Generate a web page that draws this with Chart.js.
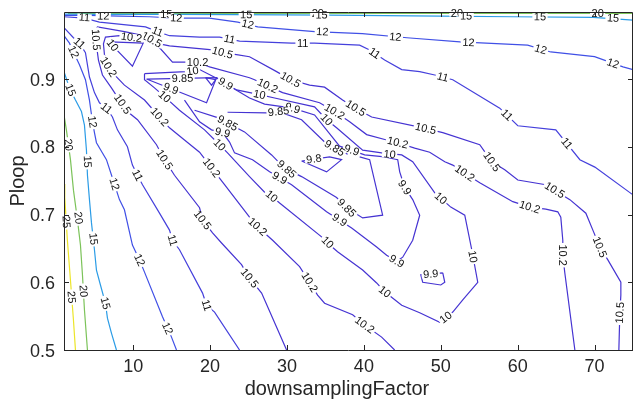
<!DOCTYPE html>
<html>
<head>
<meta charset="utf-8">
<script src="https://cdn.jsdelivr.net/npm/chart.js@4.4.1/dist/chart.umd.min.js"></script>
<style>
  html, body { margin: 0; padding: 0; background: #fff; }
  #wrap { width: 633px; height: 401px; }
</style>
</head>
<body>
<div id="wrap"><canvas id="contour-chart" width="633" height="401"></canvas></div>
<script>
// axes
const xTicks = [10, 20, 30, 40, 50, 60, 70];
const yTicks = [0.5, 0.6, 0.7, 0.8, 0.9];
const xTitle = 'downsamplingFactor';
const yTitle = 'Ploop';

// contour polylines per level, points are [downsamplingFactor, Ploop]
const lines25 = [
  [[1.0, 0.745], [1.1, 0.725], [1.44, 0.662], [1.84, 0.603], [2.23, 0.544], [2.49, 0.5]]
];
const lines20 = [
  [[1.0, 0.847], [1.31, 0.825], [1.84, 0.781], [2.23, 0.736], [2.75, 0.692], [3.14, 0.655], [3.4, 0.611], [3.66, 0.559], [4.05, 0.5]],
  [[1.5, 0.997], [75, 0.997]]
];
const lines15 = [
  [[1.0, 0.996], [5.6, 0.9955], [15.0, 0.9955], [23.4, 0.995], [35.5, 0.9945], [49.9, 0.993], [59.4, 0.992], [69.8, 0.991], [75, 0.987]],
  [[1.0, 0.911], [1.44, 0.896], [1.84, 0.884], [2.49, 0.869], [3.27, 0.852], [3.66, 0.832], [3.92, 0.795], [4.05, 0.758], [4.31, 0.722], [4.57, 0.688], [4.96, 0.648], [5.22, 0.618], [5.74, 0.596], [6.39, 0.569], [6.65, 0.547], [7.17, 0.525], [7.82, 0.5]]
];
const lines12 = [
  [[1.0, 0.994], [4.3, 0.994], [8.2, 0.993], [12.1, 0.992], [15.6, 0.990], [19.9, 0.990], [23.6, 0.984], [26.2, 0.977], [33.6, 0.970], [39.8, 0.967], [45.6, 0.961], [52.5, 0.955], [61.3, 0.950], [64.3, 0.940], [70.0, 0.933], [73.7, 0.918], [75, 0.914]],
  [[1.0, 0.964], [1.71, 0.953], [2.23, 0.940], [3.01, 0.921], [3.79, 0.899], [4.31, 0.869], [4.7, 0.837], [4.96, 0.821], [5.22, 0.806], [6.52, 0.781], [7.3, 0.754], [8.21, 0.722], [8.86, 0.707], [9.9, 0.655], [10.82, 0.633], [11.47, 0.615], [13.81, 0.549], [14.98, 0.519], [15.63, 0.5]]
];
const lines11 = [
  [[1.0, 0.992], [3.66, 0.990], [5.61, 0.984], [11.6, 0.977], [13.16, 0.970], [14.72, 0.964], [18.63, 0.962], [21.23, 0.962], [23.83, 0.956], [30.6, 0.953], [33.59, 0.953], [39.45, 0.950], [40.75, 0.943], [42.7, 0.928], [44.92, 0.914], [47.26, 0.911], [49.22, 0.906], [51.56, 0.899], [57.67, 0.857], [60.02, 0.831], [64.96, 0.825], [68.09, 0.781], [70.04, 0.770], [75, 0.729]],
  [[1.0, 0.976], [2.23, 0.961], [3.01, 0.953], [3.79, 0.939], [4.31, 0.903], [4.96, 0.880], [5.61, 0.865], [6.52, 0.857], [7.3, 0.844], [7.95, 0.825], [9.25, 0.800], [9.9, 0.773], [10.56, 0.758], [11.21, 0.744], [13.42, 0.702], [14.72, 0.677], [15.11, 0.662], [16.02, 0.648], [19.02, 0.584], [19.54, 0.566], [20.58, 0.556], [23.83, 0.5]]
];
const lines105 = [
  [[29.95, 0.5], [26.7, 0.584], [25.13, 0.606], [24.09, 0.626], [21.49, 0.658], [20.32, 0.673], [19.02, 0.692], [18.63, 0.710], [15.37, 0.758], [14.07, 0.781], [13.03, 0.803], [10.56, 0.840], [9.25, 0.852], [8.21, 0.869], [7.17, 0.887], [6.0, 0.906], [5.48, 0.928], [5.22, 0.950], [5.09, 0.973], [5.35, 0.977], [8.86, 0.970], [11.47, 0.964], [12.4, 0.958], [13.42, 0.952], [14.72, 0.949], [20.32, 0.943], [21.62, 0.939], [23.44, 0.936], [25.13, 0.933], [28.65, 0.911], [30.47, 0.899], [32.94, 0.891], [34.89, 0.888], [37.23, 0.869], [38.93, 0.857], [41.01, 0.844], [47.26, 0.829], [50.26, 0.821], [55.07, 0.803], [56.63, 0.778], [58.32, 0.766], [60.02, 0.751], [63.66, 0.744], [66.79, 0.722], [68.87, 0.702], [69.78, 0.677], [70.69, 0.652], [71.73, 0.633], [73.42, 0.600], [73.42, 0.581], [73.29, 0.555], [73.16, 0.5]]
];
const lines102 = [
  [[44.0, 0.5], [42.31, 0.519], [40.1, 0.537], [38.54, 0.552], [34.89, 0.569], [33.98, 0.581], [32.94, 0.600], [31.64, 0.623], [28.13, 0.662], [26.17, 0.682], [25.13, 0.696], [21.88, 0.744], [20.19, 0.769], [18.63, 0.792], [16.67, 0.810], [14.72, 0.828], [13.42, 0.844], [11.47, 0.869], [8.86, 0.891], [7.17, 0.911], [6.78, 0.918], [6.26, 0.936], [6.13, 0.952], [6.39, 0.962], [8.21, 0.964], [11.47, 0.959], [13.29, 0.948], [15.11, 0.925], [16.93, 0.925], [18.37, 0.925], [19.93, 0.918], [25.13, 0.902], [25.78, 0.899], [27.48, 0.890], [29.43, 0.880], [34.24, 0.865], [36.19, 0.852], [38.15, 0.837], [40.36, 0.818], [42.96, 0.810], [44.4, 0.806], [46.61, 0.798], [48.56, 0.792], [50.52, 0.778], [51.56, 0.773], [53.12, 0.761], [55.07, 0.747], [59.37, 0.719], [61.58, 0.711], [63.66, 0.708], [65.22, 0.704], [65.61, 0.696], [65.87, 0.662], [65.87, 0.640], [66.13, 0.614], [67.44, 0.5]]
];
const lines10 = [
  [[11.47, 0.908], [16.8, 0.911], [18.63, 0.914], [21.23, 0.899], [23.44, 0.884], [26.43, 0.877], [28.39, 0.872], [33.59, 0.859], [35.15, 0.840], [36.45, 0.828], [39.84, 0.795], [42.31, 0.791], [44.92, 0.788], [46.35, 0.778], [49.22, 0.732], [51.3, 0.711], [53.12, 0.699], [54.03, 0.648], [54.81, 0.600], [52.86, 0.574], [51.56, 0.556], [49.87, 0.541], [47.26, 0.555], [44.92, 0.566], [42.7, 0.586], [41.66, 0.599], [39.84, 0.618], [36.58, 0.645], [35.28, 0.658], [34.5, 0.667], [29.04, 0.717], [28.0, 0.727], [27.09, 0.733], [25.13, 0.756], [22.27, 0.791], [21.23, 0.803], [19.28, 0.825], [16.02, 0.854], [14.07, 0.874], [12.77, 0.887], [11.47, 0.899], [11.47, 0.908]],
  [[7.0, 0.955], [7.6, 0.946], [9.9, 0.919], [11.3, 0.953], [7.0, 0.955]]
];
const lines99 = [
  [[11.73, 0.900], [20.84, 0.902], [19.54, 0.865], [11.73, 0.900]],
  [[16.67, 0.869], [18.63, 0.837], [20.19, 0.825], [21.62, 0.821], [22.53, 0.807], [23.18, 0.791], [25.52, 0.781], [27.74, 0.763], [30.6, 0.744], [35.15, 0.704], [38.41, 0.680], [41.66, 0.652], [42.96, 0.640], [44.27, 0.631], [45.05, 0.637], [46.35, 0.662], [47.26, 0.699], [46.35, 0.722], [45.31, 0.740], [44.66, 0.763], [44.4, 0.781], [42.7, 0.785], [40.1, 0.788], [36.84, 0.801], [33.59, 0.847], [30.73, 0.857], [27.09, 0.863], [25.13, 0.872], [22.79, 0.888], [20.84, 0.902]],
  [[50.26, 0.614], [50.52, 0.600], [50.0, 0.596], [47.65, 0.600], [47.4, 0.611], [50.26, 0.614]]
];
const lines985 = [
  [[19.41, 0.902], [20.71, 0.899], [20.19, 0.891], [19.41, 0.902]],
  [[17.98, 0.854], [20.97, 0.843], [22.27, 0.835], [24.48, 0.822], [28.0, 0.788], [29.04, 0.776], [29.95, 0.767], [31.9, 0.756], [36.45, 0.725], [37.76, 0.710], [39.84, 0.695], [42.44, 0.699], [40.75, 0.781], [39.45, 0.785]],
  [[22.27, 0.851], [27.35, 0.850], [28.91, 0.852], [31.9, 0.840], [34.89, 0.807], [36.19, 0.798], [37.89, 0.789]]
];
const lines98 = [
  [[31.9, 0.779], [35.15, 0.763], [37.1, 0.781], [35.54, 0.785], [31.9, 0.779]]
];

// inline contour labels: [downsamplingFactor, Ploop, level]
const labelSpots = [
  [1.31, 0.689, 25], [1.97, 0.578, 25],
  [1.58, 0.803, 20], [2.88, 0.695, 20], [3.53, 0.587, 20], [34.0, 0.9975, 20], [52.1, 0.9975, 20], [70.4, 0.9975, 20],
  [1.84, 0.884, 15], [4.05, 0.778, 15], [4.83, 0.664, 15], [6.39, 0.569, 15],
  [14.3, 0.9955, 15], [24.7, 0.995, 15], [34.5, 0.9945, 15], [53.3, 0.993, 15], [62.9, 0.992, 15], [72.4, 0.990, 15],
  [2.23, 0.940, 12], [4.7, 0.837, 12], [7.56, 0.745, 12], [10.82, 0.633, 12], [14.46, 0.532, 12],
  [6.1, 0.993, 12], [15.6, 0.990, 12], [24.9, 0.981, 12], [34.6, 0.970, 12], [44.1, 0.962, 12], [53.6, 0.954, 12], [63.0, 0.944, 12], [72.4, 0.923, 12],
  [3.01, 0.953, 11], [6.52, 0.857, 11], [10.56, 0.758, 11], [15.11, 0.662, 11], [19.54, 0.566, 11],
  [3.66, 0.991, 11], [13.16, 0.970, 11], [22.53, 0.959, 11], [32.03, 0.953, 11], [41.4, 0.938, 11], [50.26, 0.903, 11], [58.6, 0.847, 11], [66.4, 0.805, 11],
  [5.15, 0.958, 10.5], [8.6, 0.863, 10.5], [14.07, 0.781, 10.5], [19.02, 0.692, 10.5], [25.13, 0.606, 10.5],
  [12.4, 0.958, 10.5], [21.62, 0.939, 10.5], [30.47, 0.899, 10.5], [38.93, 0.857, 10.5], [48.04, 0.827, 10.5], [56.63, 0.778, 10.5], [64.83, 0.736, 10.5], [70.69, 0.652, 10.5], [73.29, 0.555, 10.5],
  [6.78, 0.918, 10.2], [13.42, 0.844, 10.2], [20.19, 0.769, 10.2], [26.17, 0.682, 10.2], [32.94, 0.600, 10.2], [40.1, 0.537, 10.2],
  [9.78, 0.9615, 10.2], [18.37, 0.925, 10.2], [27.48, 0.890, 10.2], [36.19, 0.852, 10.2], [44.4, 0.806, 10.2], [53.12, 0.761, 10.2], [61.58, 0.711, 10.2], [65.87, 0.640, 10.2],
  [17.71, 0.912, 10], [26.43, 0.877, 10], [35.15, 0.840, 10], [43.35, 0.789, 10], [50.0, 0.724, 10], [54.16, 0.638, 10],
  [50.65, 0.548, 10], [42.7, 0.586, 10], [35.28, 0.659, 10], [28.0, 0.727, 10], [21.23, 0.803, 10], [14.07, 0.874, 10], [7.3, 0.950, 10],
  [14.9, 0.886, 9.9], [16.41, 0.901, 9.85], [22.01, 0.893, 9.9], [22.27, 0.835, 9.85], [21.62, 0.821, 9.9],
  [29.95, 0.767, 9.85], [29.04, 0.754, 9.9], [37.76, 0.710, 9.85], [36.84, 0.692, 9.9], [44.27, 0.631, 9.9],
  [45.31, 0.740, 9.9], [38.41, 0.795, 9.9], [36.19, 0.798, 9.85], [30.73, 0.857, 9.9], [28.91, 0.852, 9.85],
  [33.5, 0.782, 9.8], [48.69, 0.612, 9.9]
];

const contourSets = [
  [9.8, lines98], [9.85, lines985], [9.9, lines99], [10, lines10], [10.2, lines102],
  [10.5, lines105], [11, lines11], [12, lines12], [15, lines15], [20, lines20], [25, lines25]
];

function lineColor(level) {
  if (level >= 25) return '#ece52a';
  if (level >= 20) return '#7cc35a';
  if (level >= 15) return '#2b9ce6';
  if (level >= 12) return '#4050e6';
  if (level >= 11) return '#4540dc';
  return '#4533d2';
}

const datasets = [];
contourSets.forEach(([level, polylines]) => {
  polylines.forEach(pl => {
    datasets.push({
      label: String(level),
      data: pl.map(([x, y]) => ({ x, y })),
      borderColor: lineColor(level),
      borderWidth: 1.2,
      pointRadius: 0,
      showLine: true,
      fill: false,
      tension: 0
    });
  });
});

// clabel-style text, turned along the nearest drawn segment
const contourText = {
  id: 'contourText',
  afterDatasetsDraw(chart) {
    const { ctx, scales: { x, y } } = chart;
    const segs = [];
    chart.data.datasets.forEach((ds, i) => {
      const pts = chart.getDatasetMeta(i).data;
      for (let k = 1; k < pts.length; k++) {
        segs.push([pts[k - 1].x, pts[k - 1].y, pts[k].x, pts[k].y]);
      }
    });
    ctx.save();
    ctx.font = '11px "Liberation Sans", Arial, sans-serif';
    ctx.textAlign = 'center';
    ctx.textBaseline = 'middle';
    labelSpots.forEach(([vx, vy, level]) => {
      const px = x.getPixelForValue(vx);
      const py = y.getPixelForValue(vy);
      let best = Infinity, ang = 0;
      segs.forEach(([x1, y1, x2, y2]) => {
        const dx = x2 - x1, dy = y2 - y1;
        const len = dx * dx + dy * dy || 1;
        let t = ((px - x1) * dx + (py - y1) * dy) / len;
        t = Math.max(0, Math.min(1, t));
        const d = Math.hypot(x1 + t * dx - px, y1 + t * dy - py);
        if (d < best) { best = d; ang = Math.atan2(dy, dx); }
      });
      if (ang > Math.PI / 2) ang -= Math.PI;
      if (ang < -Math.PI / 2) ang += Math.PI;
      const txt = String(level);
      const w = ctx.measureText(txt).width;
      ctx.save();
      ctx.translate(px, py);
      ctx.rotate(ang);
      ctx.fillStyle = '#ffffff';
      ctx.fillRect(-w / 2 - 1.5, -3.5, w + 3, 7);
      ctx.fillStyle = '#111111';
      ctx.fillText(txt, 0, 0.5);
      ctx.restore();
    });
    ctx.restore();
  }
};

// boxed axes with inward ticks
const boxAxes = {
  id: 'boxAxes',
  afterDraw(chart) {
    const { ctx, chartArea: a, scales: { x, y } } = chart;
    ctx.save();
    ctx.strokeStyle = '#262626';
    ctx.lineWidth = 1;
    ctx.beginPath();
    ctx.rect(a.left + 0.5, a.top + 0.5, a.right - a.left - 1, a.bottom - a.top);
    xTicks.forEach(v => {
      const px = Math.round(x.getPixelForValue(v)) + 0.5;
      ctx.moveTo(px, a.bottom); ctx.lineTo(px, a.bottom - 5);
      ctx.moveTo(px, a.top); ctx.lineTo(px, a.top + 5);
    });
    yTicks.forEach(v => {
      const py = Math.round(y.getPixelForValue(v)) + 0.5;
      ctx.moveTo(a.left, py); ctx.lineTo(a.left + 5, py);
      ctx.moveTo(a.right, py); ctx.lineTo(a.right - 5, py);
    });
    ctx.stroke();

    ctx.fillStyle = '#262626';
    ctx.font = '18px "Liberation Sans", Arial, sans-serif';
    ctx.textAlign = 'center';
    ctx.textBaseline = 'alphabetic';
    xTicks.forEach(v => ctx.fillText(String(v), x.getPixelForValue(v), a.bottom + 22));
    ctx.textAlign = 'right';
    yTicks.forEach(v => ctx.fillText(v.toFixed(1), a.left - 9, y.getPixelForValue(v) + 6.5));

    ctx.font = '20px "Liberation Sans", Arial, sans-serif';
    ctx.textAlign = 'center';
    ctx.fillText(xTitle, 337, 395);
    ctx.translate(24, (a.top + a.bottom) / 2);
    ctx.rotate(-Math.PI / 2);
    ctx.fillText(yTitle, 0, 0);
    ctx.restore();
  }
};

new Chart(document.getElementById('contour-chart'), {
  type: 'scatter',
  data: { datasets },
  options: {
    responsive: false,
    animation: false,
    layout: { padding: { left: 64, right: 0, top: 12, bottom: 51 } },
    plugins: { legend: { display: false }, tooltip: { enabled: false } },
    scales: {
      x: { type: 'linear', min: 1, max: 75, display: false },
      y: { type: 'linear', min: 0.5, max: 0.999, display: false }
    }
  },
  plugins: [contourText, boxAxes]
});
</script>
</body>
</html>
